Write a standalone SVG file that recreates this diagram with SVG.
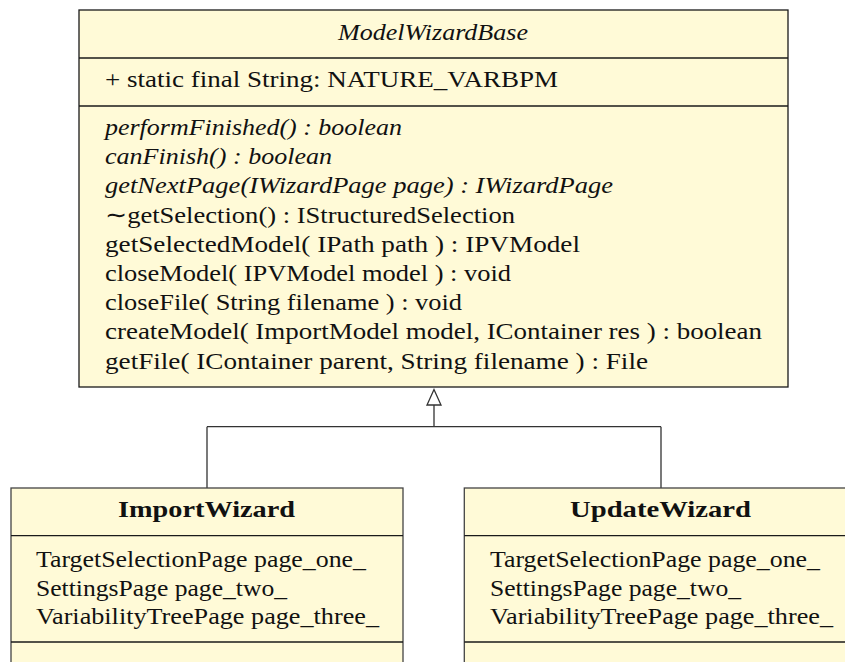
<svg xmlns="http://www.w3.org/2000/svg" width="845" height="662" viewBox="0 0 845 662">
<style>
.box{fill:#fffad7;stroke:#1a1a1a;stroke-width:1.3}
.cbox{fill:#fffad7;stroke:#444;stroke-width:1.3}
.div{stroke:#1a1a1a;stroke-width:1.3}
.t{font-family:"Liberation Serif","Times New Roman",serif;font-size:24px;fill:#111}
.i{font-style:italic}
.b{font-weight:bold}
.conn{fill:none;stroke:#333;stroke-width:1.3}
</style>
<rect width="845" height="662" fill="#ffffff"/>
<g id="ModelWizardBase">
<rect class="box" x="79" y="10" width="709" height="377"/>
<line class="div" x1="79" y1="58" x2="788" y2="58"/>
<line class="div" x1="79" y1="106" x2="788" y2="106"/>
<text class="t i" x="338" y="39.5" textLength="190" lengthAdjust="spacingAndGlyphs">ModelWizardBase</text>
<text class="t" x="105" y="87.3" textLength="453" lengthAdjust="spacingAndGlyphs">+ static final String: NATURE_VARBPM</text>
<text class="t i" x="105" y="135" textLength="297" lengthAdjust="spacingAndGlyphs">performFinished() : boolean</text>
<text class="t i" x="105" y="164.2" textLength="227" lengthAdjust="spacingAndGlyphs">canFinish() : boolean</text>
<text class="t i" x="105" y="193.4" textLength="508" lengthAdjust="spacingAndGlyphs">getNextPage(IWizardPage page) : IWizardPage</text>
<text class="t" x="105" y="222.6" textLength="410" lengthAdjust="spacingAndGlyphs">∼getSelection() : IStructuredSelection</text>
<text class="t" x="105" y="251.8" textLength="475" lengthAdjust="spacingAndGlyphs">getSelectedModel( IPath path ) : IPVModel</text>
<text class="t" x="105" y="281" textLength="406" lengthAdjust="spacingAndGlyphs">closeModel( IPVModel model ) : void</text>
<text class="t" x="105" y="310.2" textLength="357" lengthAdjust="spacingAndGlyphs">closeFile( String filename ) : void</text>
<text class="t" x="105" y="339.4" textLength="657" lengthAdjust="spacingAndGlyphs">createModel( ImportModel model, IContainer res ) : boolean</text>
<text class="t" x="105" y="368.6" textLength="543" lengthAdjust="spacingAndGlyphs">getFile( IContainer parent, String filename ) : File</text>
</g>
<g id="connectors">
<path class="conn" d="M434,405 V426.7 M207,426.7 H661 M207,426.7 V488 M661,426.7 V488"/>
<polygon points="434,389.5 427,405 441,405" fill="#ffffff" stroke="#333" stroke-width="1.3"/>
</g>
<g id="ImportWizard">
<rect class="cbox" x="11" y="488" width="392" height="220"/>
<line class="div" x1="11" y1="535.7" x2="403" y2="535.7"/>
<line class="div" x1="11" y1="642" x2="403" y2="642"/>
<text class="t b" x="118" y="517" textLength="177" lengthAdjust="spacingAndGlyphs">ImportWizard</text>
<text class="t" x="36" y="566.7" textLength="330" lengthAdjust="spacingAndGlyphs">TargetSelectionPage page_one_</text>
<text class="t" x="36" y="595.5" textLength="251" lengthAdjust="spacingAndGlyphs">SettingsPage page_two_</text>
<text class="t" x="36" y="624.3" textLength="343" lengthAdjust="spacingAndGlyphs">VariabilityTreePage page_three_</text>
</g>
<g id="UpdateWizard">
<rect class="cbox" x="464.3" y="488" width="392" height="220"/>
<line class="div" x1="464.3" y1="535.7" x2="856" y2="535.7"/>
<line class="div" x1="464.3" y1="642" x2="856" y2="642"/>
<text class="t b" x="570" y="517" textLength="181" lengthAdjust="spacingAndGlyphs">UpdateWizard</text>
<text class="t" x="490" y="566.7" textLength="330" lengthAdjust="spacingAndGlyphs">TargetSelectionPage page_one_</text>
<text class="t" x="490" y="595.5" textLength="251" lengthAdjust="spacingAndGlyphs">SettingsPage page_two_</text>
<text class="t" x="490" y="624.3" textLength="343" lengthAdjust="spacingAndGlyphs">VariabilityTreePage page_three_</text>
</g>
</svg>
